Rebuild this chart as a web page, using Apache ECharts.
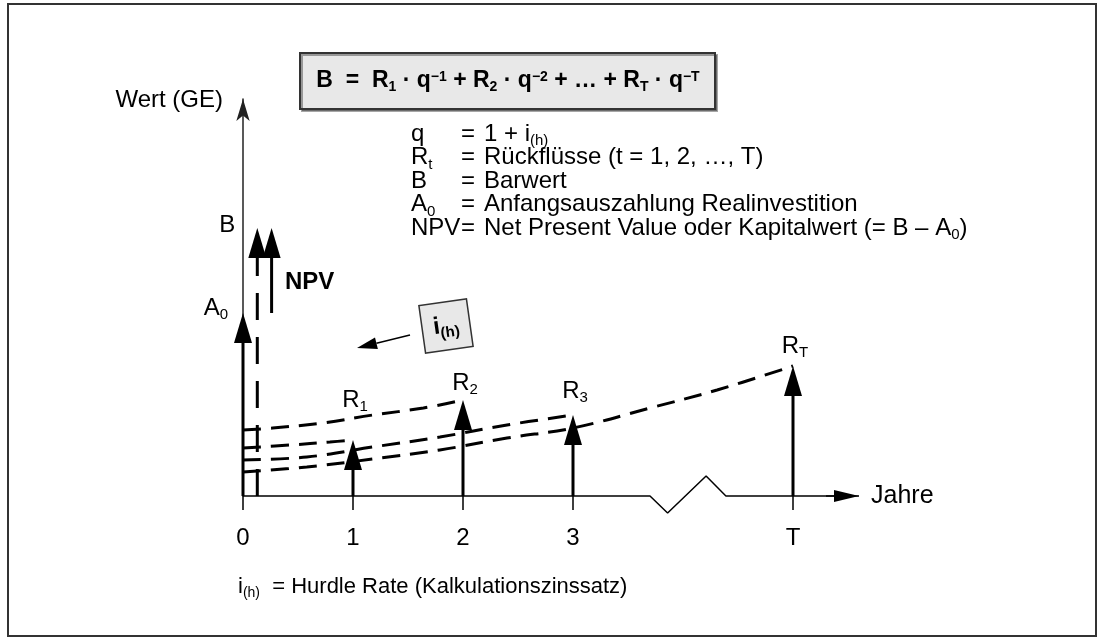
<!DOCTYPE html>
<html>
<head>
<meta charset="utf-8">
<title>Kapitalwert</title>
<script src="https://cdn.jsdelivr.net/npm/echarts@6/dist/echarts.min.js"></script>
<style>
  html, body { margin: 0; padding: 0; background: #fff; }
  #chart { width: 1104px; height: 641px; }
</style>
</head>
<body>
<div id="chart"></div>
<script>
// Zeitachse
const yearTicks = [0, 1, 2, 3, 5];
const yearLabels = ['0', '1', '2', '3', 'T'];

// Rückflüsse R_t
const flowYears = [1, 2, 3, 5];
const flowValues = [2.8, 4.8, 4.05, 6.5];
const flowIndex = ['1', '2', '3', 'T'];

// Anfangsauszahlung, Barwert
const outlayA0 = 9.15;
const presentValueB = 13.4;
const barwertYear = 0.13;
const npvYear = 0.26;

// abgezinste Rückflüsse (gestrichelt)
const curveR1 = [[0, 2.4], [0.43, 2.55], [0.79, 2.7], [1, 2.8]];
const curveR2 = [[0, 3.3], [0.27, 3.4], [0.73, 3.65], [1.18, 4.05], [1.64, 4.4], [2, 4.8]];
const curveR3 = [[0, 1.8], [0.58, 1.95], [1.18, 2.45], [1.79, 2.95], [2.4, 3.55], [3, 4.05]];
const curveRT = [[0, 1.2], [0.58, 1.45], [1.18, 1.85], [1.79, 2.3], [2.4, 2.9], [3, 3.4], [3.7, 4.4], [4.31, 5.3], [5, 6.5]];

// x-Achse mit Unterbrechung
const xAxisPath = [[0, 0], [3.7, 0], [3.86, -0.85], [4.21, 1.0], [4.39, 0], [5.6, 0]];

// Legende
const legendSymbols = ['{m|q}', '{m|R}{s|t}', '{m|B}', '{m|A}{s|0}', '{m|NPV}'];
const legendTexts = [
  '{m|1 + i}{s|(h)}',
  '{m|Rückflüsse (t = 1, 2, …, T)}',
  '{m|Barwert}',
  '{m|Anfangsauszahlung Realinvestition}',
  '{m|Net Present Value oder Kapitalwert (= B – A}{s|0}{m|)}'
];

const FONT = '"Liberation Sans", Arial, Helvetica, sans-serif';

function richStyles(size, weight) {
  const k = size / 24;
  const sub = Math.round(size * 0.62);
  return {
    m: { fontSize: size, fontWeight: weight, fontFamily: FONT, color: '#000', lineHeight: 30 },
    s: { fontSize: sub, fontWeight: weight, fontFamily: FONT, color: '#000', lineHeight: sub, padding: [Math.round(14 * k), 0, 0, 0] },
    p: { fontSize: sub, fontWeight: weight, fontFamily: FONT, color: '#000', lineHeight: sub, padding: [0, 0, Math.round(8 * k), 0] }
  };
}

// Pfeile: [x0, y0, x1, y1]
const arrowData = [
  [0, 0, 0, outlayA0],
  [barwertYear, 0, barwertYear, presentValueB],
  [npvYear, outlayA0, npvYear, presentValueB]
];
flowYears.forEach((t, i) => arrowData.push([t, 0, t, flowValues[i]]));

// Beschriftung je Pfeil (Text, Versatz zur Spitze in px)
const arrowLabels = [
  { text: '{m|A}{s|0}', dx: -27, dy: -5 },
  { text: '{m|B}', dx: -30, dy: -3 },
  { text: '{m|NPV}', dx: 38, dy: 54, bold: true },
];
const flowLift = [40, 17, 24, 20];
flowIndex.forEach((s, i) => arrowLabels.push({ text: '{m|R}{s|' + s + '}', dx: 2, dy: -flowLift[i] }));

function arrowParts(p0, p1, o) {
  const dx = p1[0] - p0[0], dy = p1[1] - p0[1];
  const len = Math.hypot(dx, dy);
  const ux = dx / len, uy = dy / len, nx = -uy, ny = ux;
  const bx = p1[0] - ux * o.head, by = p1[1] - uy * o.head;
  return [
    { type: 'line', shape: { x1: p0[0], y1: p0[1], x2: bx + ux, y2: by + uy },
      style: { stroke: '#000', lineWidth: o.width, lineDash: o.dash || null } },
    { type: 'polygon', shape: { points: [[p1[0], p1[1]], [bx + nx * o.half, by + ny * o.half], [bx - nx * o.half, by - ny * o.half]] },
      style: { fill: '#000' } }
  ];
}

function renderArrow(params, api) {
  const i = params.dataIndex;
  const p0 = api.coord([api.value(0), api.value(1)]);
  const p1 = api.coord([api.value(2), api.value(3)]);
  const children = arrowParts(p0, p1, { head: 30, half: 9, width: 3, dash: i === 1 ? [27, 17] : null });
  const lab = arrowLabels[i];
  children.push({
    type: 'text', x: p1[0] + lab.dx, y: p1[1] + lab.dy,
    style: { text: lab.text, rich: richStyles(24, lab.bold ? 'bold' : 'normal'), align: 'center', verticalAlign: 'middle' }
  });
  return { type: 'group', children: children };
}

function renderAxisHead(params, api) {
  const p0 = api.coord([api.value(0), api.value(1)]);
  const p1 = api.coord([api.value(2), api.value(3)]);
  return { type: 'group', children: arrowParts(p0, p1, { head: 25, half: 6, width: 1.5 }) };
}

const curveStyle = { color: '#000', width: 3, type: [18, 10] };
const curveSeries = [curveR1, curveR2, curveR3, curveRT].map((d, i) => ({
  name: 'Kurve ' + i, type: 'line', data: d, smooth: 0.4, symbol: 'none', clip: false,
  lineStyle: curveStyle, z: 3
}));

// i(h)-Pfeil (Annotation)
const ihTail = [410, 335], ihTip = [357, 348];

const legendGraphics = [];
legendSymbols.forEach((s, i) => {
  const y = 134 + i * 23.5;
  legendGraphics.push(
    { type: 'text', x: 411, y: y, style: { text: s, rich: richStyles(24, 'normal'), align: 'left', verticalAlign: 'middle' } },
    { type: 'text', x: 461, y: y, style: { text: '{m|=}', rich: richStyles(24, 'normal'), align: 'left', verticalAlign: 'middle' } },
    { type: 'text', x: 484, y: y, style: { text: legendTexts[i], rich: richStyles(24, 'normal'), align: 'left', verticalAlign: 'middle' } }
  );
});

const chart = echarts.init(document.getElementById('chart'));
chart.setOption({
  animation: false,
  backgroundColor: '#ffffff',
  grid: { left: 243, top: 99, width: 616, height: 397 },
  xAxis: {
    type: 'value', min: 0, max: 5.6,
    splitLine: { show: false },
    axisLine: { show: false },
    axisTick: { show: true, customValues: yearTicks, length: 14, lineStyle: { color: '#000', width: 1.5 } },
    axisLabel: {
      customValues: yearTicks, margin: 30, fontSize: 24, color: '#000', fontFamily: FONT,
      formatter: v => yearLabels[yearTicks.indexOf(v)]
    },
    name: 'Jahre', nameLocation: 'end', nameGap: 12,
    nameTextStyle: { fontSize: 25, color: '#000', fontFamily: FONT, align: 'left', verticalAlign: 'middle' }
  },
  yAxis: {
    type: 'value', min: 0, max: 19.85,
    splitLine: { show: false },
    axisTick: { show: false },
    axisLabel: { show: false },
    axisLine: { show: true, symbol: ['none', 'arrow'], symbolSize: [10, 22], lineStyle: { color: '#222', width: 1.5 } },
    name: 'Wert (GE)', nameLocation: 'end', nameGap: -1,
    nameTextStyle: { fontSize: 24, color: '#000', fontFamily: FONT, align: 'right', verticalAlign: 'middle', padding: [0, 20, 0, 0] }
  },
  series: [
    {
      name: 'Achse', type: 'line', data: xAxisPath, symbol: 'none', clip: false, silent: true,
      lineStyle: { color: '#000', width: 1.5 }, z: 2
    },
    {
      name: 'Achsenpfeil', type: 'custom', coordinateSystem: 'cartesian2d', clip: false, silent: true,
      renderItem: renderAxisHead, data: [[5.3, 0, 5.6, 0]], encode: { x: [0, 2], y: [1, 3] }, z: 2
    },
    ...curveSeries,
    {
      name: 'Zahlungen', type: 'custom', coordinateSystem: 'cartesian2d', clip: false,
      renderItem: renderArrow, data: arrowData, encode: { x: [0, 2], y: [1, 3] }, z: 4
    }
  ],
  graphic: [
    { type: 'rect', shape: { x: 8, y: 4, width: 1088, height: 632 }, style: { fill: 'none', stroke: '#333', lineWidth: 2 } },
    { type: 'rect', shape: { x: 300, y: 53, width: 415, height: 56 },
      style: { fill: '#e8e8e8', stroke: '#333', lineWidth: 2, shadowColor: 'rgba(0,0,0,0.35)', shadowOffsetX: 2, shadowOffsetY: 2 } },
    { type: 'text', x: 508, y: 81, style: {
        text: '{m|B  =  R}{s|1}{m| · q}{p|−1}{m| + R}{s|2}{m| · q}{p|−2}{m| + … + R}{s|T}{m| · q}{p|−T}',
        rich: richStyles(23, 'bold'), align: 'center', verticalAlign: 'middle' } },
    ...legendGraphics,
    { type: 'group', x: 446, y: 326, rotation: 8 * Math.PI / 180, children: [
        { type: 'rect', shape: { x: -24, y: -24, width: 48, height: 48 }, style: { fill: '#e8e8e8', stroke: '#333', lineWidth: 1.5 } },
        { type: 'text', x: 0, y: 0, style: { text: '{m|i}{s|(h)}', rich: richStyles(24, 'bold'), align: 'center', verticalAlign: 'middle' } }
    ] },
    (function () {
      const dx = ihTip[0] - ihTail[0], dy = ihTip[1] - ihTail[1], len = Math.hypot(dx, dy);
      const ux = dx / len, uy = dy / len, bx = ihTip[0] - ux * 20, by = ihTip[1] - uy * 20;
      return { type: 'group', children: [
        { type: 'line', shape: { x1: ihTail[0], y1: ihTail[1], x2: bx, y2: by }, style: { stroke: '#000', lineWidth: 1.5 } },
        { type: 'polygon', shape: { points: [ihTip, [bx - uy * 6, by + ux * 6], [bx + uy * 6, by - ux * 6]] }, style: { fill: '#000' } }
      ] };
    })(),
    { type: 'text', x: 238, y: 587, style: {
        text: '{m|i}{s|(h)}{m|  = Hurdle Rate (Kalkulationszinssatz)}',
        rich: richStyles(22, 'normal'), align: 'left', verticalAlign: 'middle' } }
  ]
});
</script>
</body>
</html>
